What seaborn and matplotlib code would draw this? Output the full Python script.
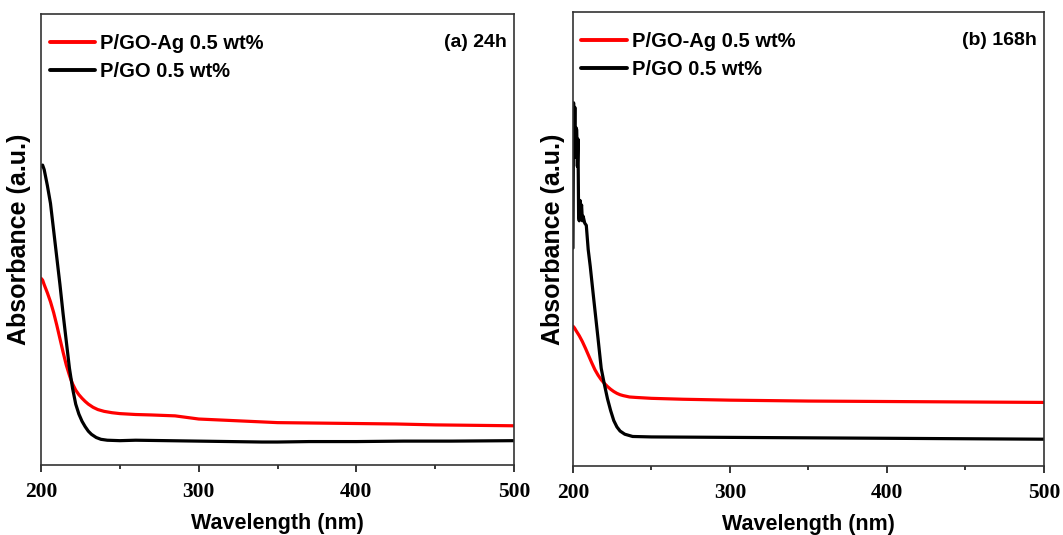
import numpy as np
import pandas as pd
import matplotlib
matplotlib.use("Agg")
import matplotlib.pyplot as plt
from matplotlib.ticker import MultipleLocator
import seaborn as sns

# series names
name_ag = "P/GO-Ag 0.5 wt%"
name_go = "P/GO 0.5 wt%"

# panel (a) 24h -- absorbance (a.u., 0 = bottom of axes, 1 = top)
wl_ag_24 = [200, 201, 202, 204, 206, 208, 210, 212, 214, 216, 218, 219, 220, 221, 222, 224, 226,
            228, 230, 233, 236, 240, 245, 250, 260, 270, 285, 300, 325, 350, 375, 400, 425,
            450, 475, 500]
abs_ag_24 = [0.414, 0.41, 0.40, 0.382, 0.362, 0.338, 0.31, 0.28, 0.25, 0.222, 0.199, 0.189,
             0.18, 0.173, 0.166, 0.156, 0.148, 0.141, 0.135, 0.128, 0.123, 0.119, 0.116, 0.114,
             0.112, 0.111, 0.109, 0.102, 0.098, 0.094, 0.093, 0.092, 0.091, 0.089, 0.088, 0.087]

wl_go_24 = [200, 201, 202, 204, 206, 208, 210, 212, 214, 216, 218, 220, 222, 224, 226, 228, 230,
            232, 235, 238, 242, 250, 260, 280, 300, 320, 340, 350, 370, 400, 430, 460, 500]
abs_go_24 = [0.663, 0.665, 0.655, 0.62, 0.58, 0.52, 0.46, 0.40, 0.335, 0.275, 0.215, 0.17, 0.135,
             0.113, 0.097, 0.085, 0.075, 0.068, 0.061, 0.057, 0.055, 0.054, 0.055, 0.054, 0.053,
             0.052, 0.051, 0.051, 0.052, 0.052, 0.053, 0.053, 0.054]

# panel (b) 168h
wl_ag_168 = [200, 201, 202, 204, 206, 208, 210, 212, 214, 216, 218, 220, 222, 224, 226, 228, 230,
             232, 236, 240, 250, 270, 300, 350, 400, 450, 500]
abs_ag_168 = [0.308, 0.304, 0.298, 0.287, 0.274, 0.259, 0.243, 0.227, 0.212, 0.2, 0.19, 0.182,
              0.175, 0.169, 0.164, 0.16, 0.157, 0.155, 0.152, 0.151, 0.149, 0.147, 0.145, 0.143,
              0.142, 0.141, 0.14]

wl_go_168 = [200.0, 200.4, 200.8, 201.2, 201.6, 202.0, 202.4, 202.8, 203.2, 203.6, 204.0, 204.5,
             205.0, 205.5, 206.0, 206.5, 207.5, 208.5, 209.7, 211, 213, 216, 218, 220, 222, 224,
             226, 228, 230, 233, 238, 250, 300, 350, 400, 450, 500]
abs_go_168 = [0.48, 0.80, 0.70, 0.79, 0.68, 0.745, 0.74, 0.66, 0.72, 0.55, 0.54, 0.585, 0.56,
              0.575, 0.54, 0.55, 0.535, 0.53, 0.477, 0.44, 0.375, 0.28, 0.215, 0.18, 0.148,
              0.122, 0.10, 0.086, 0.077, 0.07, 0.065, 0.064, 0.063, 0.062, 0.061, 0.06, 0.059]

xticks = [200, 300, 400, 500]


def make_df(wl_ag, abs_ag, wl_go, abs_go):
    a = pd.DataFrame({"wl": wl_ag, "abs": abs_ag, "sample": name_ag})
    b = pd.DataFrame({"wl": wl_go, "abs": abs_go, "sample": name_go})
    return pd.concat([a, b], ignore_index=True)


sns.set_style("ticks")
plt.rcParams["font.family"] = ["Liberation Sans", "DejaVu Sans"]
plt.rcParams["text.color"] = "black"
plt.rcParams["axes.labelcolor"] = "black"
plt.rcParams["xtick.color"] = "black"

fig = plt.figure(figsize=(10.63, 5.35), dpi=100)
ax1 = fig.add_axes([0.0386, 0.1308, 0.445, 0.843])
ax2 = fig.add_axes([0.539, 0.129, 0.4431, 0.8486])

panels = [
    (ax1, make_df(wl_ag_24, abs_ag_24, wl_go_24, abs_go_24), "(a) 24h", 7),
    (ax2, make_df(wl_ag_168, abs_ag_168, wl_go_168, abs_go_168), "(b) 168h", 6),
]

for ax, df, tag, ypad in panels:
    sns.lineplot(data=df, x="wl", y="abs", hue="sample", hue_order=[name_ag, name_go],
                 palette=["#ff0000", "#000000"], linewidth=2.3, estimator=None,
                 ax=ax, legend=True)
    handles, labels = ax.get_legend_handles_labels()
    for h in handles:
        h.set_linewidth(2.8)
    ax.legend(handles=handles, labels=labels, loc="upper left", bbox_to_anchor=(0.018, 0.955),
              frameon=False, handlelength=2.25, handletextpad=0.25, labelspacing=0.45,
              borderaxespad=0, borderpad=0,
              prop={"family": "Liberation Sans", "weight": "bold", "size": 14.5})

    ax.text(0.985, 0.955, tag, transform=ax.transAxes, ha="right", va="top",
            fontsize=14, fontweight="bold")

    ax.set_xlim(200, 500)
    ax.set_ylim(0, 1)
    ax.set_xticks(xticks)
    ax.xaxis.set_minor_locator(MultipleLocator(50))
    ax.set_yticks([])
    ax.tick_params(axis="x", which="major", direction="out", length=5, width=1.1,
                   pad=7, labelsize=15.5, bottom=True, top=False)
    ax.tick_params(axis="x", which="minor", direction="out", length=3, width=1.1,
                   bottom=True, top=False)
    for lbl in ax.get_xticklabels():
        lbl.set_fontfamily("Liberation Serif")
        lbl.set_fontweight("bold")
    for sp in ax.spines.values():
        sp.set_visible(True)
        sp.set_color("#333333")
        sp.set_linewidth(1.2)

    ax.set_xlabel("Wavelength (nm)", fontsize=15.5, fontweight="bold", labelpad=8)
    ax.set_ylabel("Absorbance (a.u.)", fontsize=18, fontweight="bold", labelpad=ypad)

fig.savefig("out.png", dpi=100, facecolor="white")
